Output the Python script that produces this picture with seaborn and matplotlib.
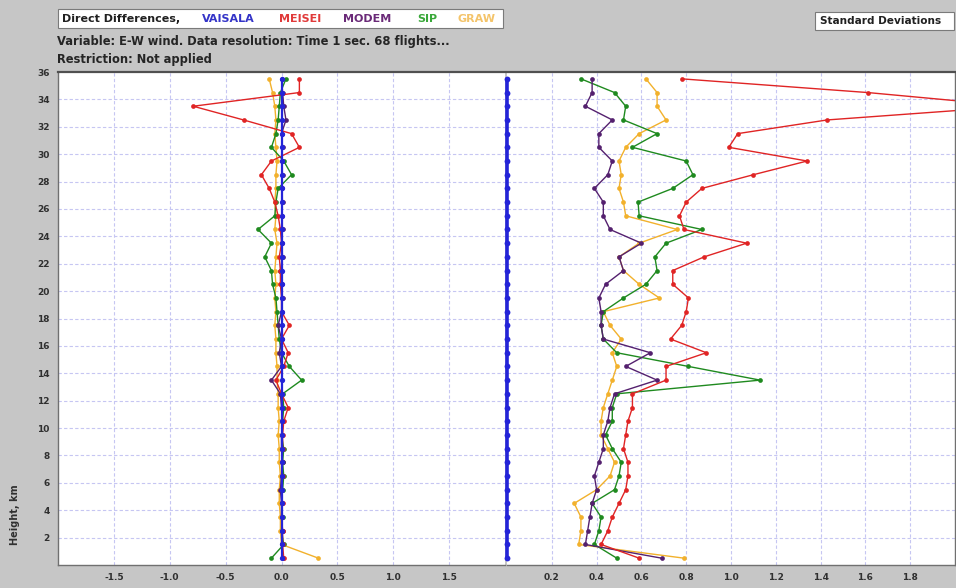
import matplotlib
matplotlib.use("Agg")
import matplotlib.pyplot as plt
import seaborn as sns

# Flight levels (km), one sample per kilometre layer
heights = [0.5 + i for i in range(36)]

# Direct differences relative to VAISALA (m/s)
diff_vaisala = [0.0] * 36
diff_meisei = [0.02, 0.01, 0.01, 0.00, 0.01, 0.00, 0.01, 0.00, 0.01, 0.01,
               0.02, 0.06, 0.00, -0.05, 0.02, 0.06, 0.00, 0.07, 0.00, 0.00,
               -0.01, -0.01, -0.02, 0.00, -0.01, -0.03, -0.06, -0.11, -0.18, -0.09,
               0.16, 0.09, -0.34, -0.79, 0.16, 0.16]
diff_modem = [0.01, 0.00, 0.01, 0.00, 0.00, -0.01, 0.00, 0.01, 0.00, 0.00,
              0.01, 0.00, -0.01, -0.09, 0.00, -0.02, 0.00, -0.03, 0.00, 0.01,
              0.00, -0.01, 0.01, 0.00, 0.01, 0.00, 0.01, 0.00, 0.01, 0.00,
              0.01, 0.00, 0.04, 0.02, 0.01, 0.00]
diff_sip = [-0.09, 0.02, 0.00, 0.01, 0.00, 0.01, 0.02, 0.01, 0.02, 0.00,
            0.01, 0.02, 0.01, 0.18, 0.07, 0.00, -0.02, -0.03, -0.04, -0.05,
            -0.08, -0.09, -0.15, -0.09, -0.21, -0.06, -0.05, -0.03, 0.09, 0.02,
            -0.09, -0.05, -0.03, -0.02, -0.01, 0.04]
diff_graw = [0.33, 0.00, -0.01, -0.01, -0.02, -0.02, -0.01, -0.02, -0.02, -0.03,
             -0.02, -0.03, -0.03, -0.04, -0.04, -0.05, -0.05, -0.06, -0.05, -0.06,
             -0.05, -0.06, -0.05, -0.04, -0.06, -0.05, -0.06, -0.05, -0.05, -0.04,
             -0.05, -0.06, -0.05, -0.06, -0.08, -0.11]

# Standard deviations of the differences (m/s)
std_vaisala = [0.0] * 36
std_meisei = [0.59, 0.42, 0.45, 0.47, 0.50, 0.53, 0.54, 0.54, 0.52, 0.53,
              0.54, 0.56, 0.56, 0.71, 0.71, 0.89, 0.73, 0.78, 0.80, 0.81,
              0.74, 0.74, 0.88, 1.07, 0.79, 0.77, 0.80, 0.87, 1.10, 1.34,
              0.99, 1.03, 1.43, 2.27, 1.61, 0.78]
std_modem = [0.69, 0.35, 0.36, 0.37, 0.38, 0.40, 0.39, 0.41, 0.43, 0.43,
             0.45, 0.46, 0.48, 0.67, 0.53, 0.64, 0.43, 0.42, 0.42, 0.41,
             0.44, 0.52, 0.50, 0.60, 0.46, 0.43, 0.43, 0.39, 0.45, 0.47,
             0.41, 0.41, 0.47, 0.35, 0.38, 0.38]
std_sip = [0.49, 0.39, 0.41, 0.42, 0.38, 0.48, 0.50, 0.51, 0.47, 0.44,
           0.47, 0.47, 0.49, 1.13, 0.81, 0.49, 0.43, 0.42, 0.43, 0.52,
           0.62, 0.67, 0.66, 0.71, 0.87, 0.59, 0.585, 0.74, 0.83, 0.80,
           0.56, 0.67, 0.52, 0.53, 0.48, 0.33]
std_graw = [0.79, 0.32, 0.33, 0.33, 0.30, 0.40, 0.46, 0.48, 0.45, 0.42,
            0.42, 0.43, 0.45, 0.47, 0.49, 0.47, 0.51, 0.46, 0.43, 0.68,
            0.59, 0.52, 0.50, 0.59, 0.76, 0.53, 0.52, 0.50, 0.51, 0.50,
            0.53, 0.59, 0.71, 0.67, 0.67, 0.62]

diff_ticks = [-1.5, -1.0, -0.5, 0.0, 0.5, 1.0, 1.5]
std_ticks = [0.2, 0.4, 0.6, 0.8, 1.0, 1.2, 1.4, 1.6, 1.8]
height_ticks = list(range(2, 37, 2))

names = ["VAISALA", "MEISEI", "MODEM", "SIP", "GRAW"]
line_colors = {"VAISALA": "#2424d8", "MEISEI": "#e02424", "MODEM": "#54206e",
               "SIP": "#1f8a1f", "GRAW": "#f2b12c"}
name_colors = {"VAISALA": "#3434c8", "MEISEI": "#e03a3a", "MODEM": "#6a2a78",
               "SIP": "#3aa83a", "GRAW": "#f4c46a"}

sns.set_theme(style="white")
plt.rcParams['font.family'] = ['DejaVu Sans']

BG = "#c6c6c6"
GRID = "#c6c6f2"
W, H = 956, 588

fig = plt.figure(figsize=(W / 100, H / 100), dpi=100, facecolor=BG)
ax_d = fig.add_axes([58 / W, 23 / H, 447 / W, 493 / H])
ax_s = fig.add_axes([507 / W, 23 / H, 448 / W, 493 / H])


def draw(ax, values, name, lw=1.0, ms=3.4, front=False):
    sns.lineplot(x=values, y=heights, orient="y", sort=False, estimator=None,
                 color=line_colors[name], marker="o", markersize=ms,
                 markeredgewidth=0, linewidth=lw, ax=ax, legend=False)
    if front:
        ax.lines[-1].set_clip_on(False)
        ax.lines[-1].set_zorder(5)


draw(ax_d, diff_graw, "GRAW")
draw(ax_d, diff_sip, "SIP")
draw(ax_d, diff_modem, "MODEM")
draw(ax_d, diff_meisei, "MEISEI")
draw(ax_d, diff_vaisala, "VAISALA", lw=1.6, ms=3.8, front=True)

draw(ax_s, std_graw, "GRAW")
draw(ax_s, std_sip, "SIP")
draw(ax_s, std_modem, "MODEM")
draw(ax_s, std_meisei, "MEISEI")
draw(ax_s, std_vaisala, "VAISALA", lw=2.6, ms=4.2, front=True)

tick_font = dict(fontsize=6.5, fontweight="bold", color="#303030")

for ax in (ax_d, ax_s):
    ax.set_facecolor("white")
    ax.set_ylim(0, 36)
    ax.set_yticks(height_ticks)
    for h in height_ticks[:-1]:
        ax.axhline(h, color=GRID, lw=0.8, ls=(0, (3, 2)), zorder=0)
    ax.set_xlabel("")
    ax.set_ylabel("")
    for side in ("top", "bottom", "left", "right"):
        ax.spines[side].set_color("#707070")
        ax.spines[side].set_linewidth(1.0)

ax_d.set_xlim(-2, 2)
ax_d.set_xticks(diff_ticks)
ax_d.set_xticklabels([f"{t:.1f}" for t in diff_ticks], **tick_font)
for t in diff_ticks:
    ax_d.axvline(t, color=GRID, lw=0.8, ls=(0, (3, 2)), zorder=0)
ax_d.set_yticklabels([str(h) for h in height_ticks], **tick_font)
ax_d.spines["right"].set_visible(False)
ax_d.spines["top"].set_color("#505050")
ax_d.spines["top"].set_linewidth(1.6)
ax_d.tick_params(axis="y", direction="out", length=4, width=1, color="#303030", pad=2)
ax_d.tick_params(axis="x", direction="out", length=0, pad=6)

ax_s.set_xlim(0, 2)
ax_s.set_xticks(std_ticks)
ax_s.set_xticklabels([f"{t:.1f}" for t in std_ticks], **tick_font)
for t in std_ticks:
    ax_s.axvline(t, color=GRID, lw=0.8, ls=(0, (3, 2)), zorder=0)
ax_s.set_yticklabels([])
ax_s.spines["left"].set_visible(False)
ax_s.spines["top"].set_color("#505050")
ax_s.spines["top"].set_linewidth(1.6)
ax_s.tick_params(axis="y", length=0)
ax_s.tick_params(axis="x", direction="out", length=0, pad=6)

fig.text(15 / W, 1 - 515 / H, "Height, km", rotation=90, ha="center", va="center",
         fontsize=7, fontweight="bold", color="#303030")

# Header panels
def px_box(x0, y0, x1, y1):
    fig.patches.append(plt.Rectangle((x0 / W, 1 - y1 / H), (x1 - x0) / W, (y1 - y0) / H,
                                     transform=fig.transFigure, facecolor="white",
                                     edgecolor="#7a7a7a", lw=0.8, zorder=1))

px_box(58, 9, 503, 28)
px_box(815, 12, 954, 30)

head_font = dict(fontsize=8, fontweight="bold", color="#202020", va="center", ha="left", zorder=2)
fig.text(62 / W, 1 - 18.5 / H, "Direct Differences,", **head_font)
name_x = {"VAISALA": 202, "MEISEI": 279, "MODEM": 343, "SIP": 417, "GRAW": 458}
for n in names:
    fig.text(name_x[n] / W, 1 - 18.5 / H, n, fontsize=8, color=name_colors[n],
             va="center", ha="left", fontweight="bold", zorder=2)
fig.text(820 / W, 1 - 21 / H, "Standard Deviations", fontsize=7.6, fontweight="bold",
         color="#202020", va="center", ha="left", zorder=2)
fig.text(57 / W, 1 - 42 / H, "Variable: E-W wind. Data resolution: Time 1 sec. 68 flights...",
         fontsize=8.3, fontweight="bold", color="#252525", va="center", ha="left")
fig.text(57 / W, 1 - 60 / H, "Restriction: Not applied",
         fontsize=8.3, fontweight="bold", color="#252525", va="center", ha="left")

fig.savefig("out.png", dpi=100, facecolor=BG)
